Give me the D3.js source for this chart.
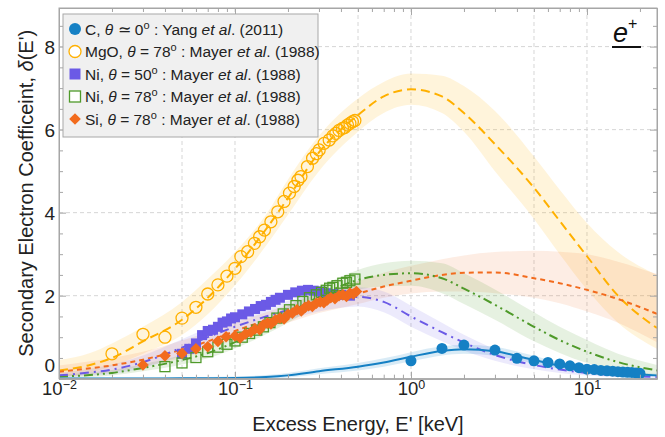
<!DOCTYPE html>
<html>
<head>
<meta charset="utf-8">
<script src="https://cdn.jsdelivr.net/npm/d3@7"></script>
<style>
  body { margin: 0; background: #fff; }
  svg { font-family: "Liberation Sans", Arial, sans-serif; }
</style>
</head>
<body>
<svg id="chart" width="665" height="437"></svg>
<script>
// energy grid of the fitted curves (keV)
const fitE = [0.01, 0.015, 0.02, 0.03, 0.05, 0.07, 0.1, 0.15, 0.2, 0.3, 0.5, 0.7, 1, 1.5, 2, 3, 5, 7, 10, 15, 25];

// fitted curves + shaded bands
const mgoFit = [0.2, 0.33, 0.5, 0.9, 1.42, 1.95, 2.65, 3.6, 4.35, 5.45, 6.35, 6.8, 6.97, 6.8, 6.4, 5.65, 4.6, 3.8, 2.95, 2.0, 1.22];
const mgoUp  = [0.45, 0.62, 0.85, 1.25, 1.85, 2.4, 3.05, 3.95, 4.8, 5.85, 6.75, 7.15, 7.35, 7.3, 7.05, 6.45, 5.35, 4.55, 3.75, 3.05, 2.5];
const mgoLo  = [0.05, 0.15, 0.3, 0.6, 1.05, 1.55, 2.25, 3.2, 3.95, 5.0, 5.95, 6.4, 6.6, 6.4, 5.95, 5.0, 3.85, 3.0, 2.15, 1.35, 0.72];

const siFit = [0.17, 0.25, 0.32, 0.46, 0.7, 0.9, 1.15, 1.4, 1.55, 1.8, 2.05, 2.22, 2.36, 2.5, 2.55, 2.56, 2.42, 2.3, 2.14, 1.92, 1.56];
const siUp  = [0.32, 0.42, 0.5, 0.65, 0.92, 1.12, 1.35, 1.6, 1.78, 2.05, 2.35, 2.55, 2.72, 2.88, 2.97, 3.05, 3.08, 3.06, 3.0, 2.82, 2.52];
const siLo  = [0.05, 0.1, 0.16, 0.3, 0.5, 0.7, 0.95, 1.2, 1.35, 1.58, 1.8, 1.95, 2.05, 2.1, 2.1, 2.06, 1.95, 1.82, 1.62, 1.35, 0.88];

const ni50Fit = [0.08, 0.15, 0.22, 0.4, 0.75, 1.0, 1.25, 1.5, 1.65, 1.85, 1.97, 1.85, 1.5, 1.12, 0.87, 0.57, 0.33, 0.22, 0.14, 0.08, 0.04];
const ni50Up  = [0.14, 0.24, 0.34, 0.56, 0.95, 1.22, 1.46, 1.72, 1.88, 2.08, 2.2, 2.1, 1.76, 1.35, 1.06, 0.72, 0.43, 0.3, 0.2, 0.12, 0.07];
const ni50Lo  = [0.03, 0.08, 0.12, 0.26, 0.56, 0.8, 1.04, 1.28, 1.42, 1.62, 1.74, 1.6, 1.25, 0.9, 0.68, 0.43, 0.23, 0.14, 0.08, 0.04, 0.02];

const ni78Fit = [0.05, 0.09, 0.14, 0.26, 0.45, 0.62, 0.88, 1.25, 1.55, 1.98, 2.38, 2.5, 2.54, 2.42, 2.17, 1.78, 1.25, 0.93, 0.65, 0.4, 0.2];
const ni78Up  = [0.09, 0.15, 0.21, 0.35, 0.57, 0.76, 1.03, 1.43, 1.75, 2.2, 2.62, 2.78, 2.84, 2.78, 2.54, 2.15, 1.6, 1.25, 0.93, 0.6, 0.33];
const ni78Lo  = [0.02, 0.04, 0.08, 0.18, 0.34, 0.49, 0.73, 1.07, 1.35, 1.76, 2.14, 2.22, 2.24, 2.06, 1.8, 1.42, 0.9, 0.62, 0.38, 0.22, 0.08];

const cFit = [0.003, 0.004, 0.005, 0.006, 0.008, 0.01, 0.015, 0.04, 0.08, 0.18, 0.29, 0.39, 0.53, 0.67, 0.71, 0.66, 0.45, 0.31, 0.2, 0.13, 0.08];
const cUp  = [0.02, 0.02, 0.025, 0.03, 0.035, 0.04, 0.05, 0.09, 0.14, 0.25, 0.38, 0.49, 0.64, 0.78, 0.82, 0.77, 0.55, 0.39, 0.27, 0.18, 0.12];
const cLo  = [0, 0, 0, 0, 0, 0, 0, 0, 0.03, 0.11, 0.2, 0.29, 0.42, 0.56, 0.6, 0.55, 0.36, 0.24, 0.14, 0.08, 0.04];

// measured points
const cE = [1.0, 1.5, 2.0, 3.0, 4.0, 5.0, 6.0, 7.0, 8.0, 9.0, 10, 11, 12, 13, 14, 15, 16, 17, 18, 19, 20];
const cD = [0.43, 0.73, 0.81, 0.69, 0.49, 0.43, 0.39, 0.355, 0.31, 0.265, 0.23, 0.22, 0.2, 0.19, 0.18, 0.17, 0.16, 0.155, 0.15, 0.14, 0.13];

const mgoE = [0.02, 0.03, 0.04, 0.05, 0.06, 0.07, 0.08, 0.09, 0.1, 0.108, 0.118, 0.129, 0.138, 0.147, 0.16, 0.175, 0.19, 0.204, 0.217, 0.228, 0.237, 0.258, 0.276, 0.29, 0.301, 0.321, 0.343, 0.36, 0.374, 0.39, 0.408, 0.42, 0.436, 0.45, 0.465, 0.48];
const mgoD = [0.6, 1.07, 1.0, 1.46, 1.72, 2.04, 2.26, 2.47, 2.66, 2.94, 3.06, 3.26, 3.42, 3.58, 3.78, 4.02, 4.27, 4.47, 4.63, 4.78, 4.87, 5.11, 5.31, 5.42, 5.51, 5.67, 5.75, 5.85, 5.91, 5.98, 6.03, 6.05, 6.11, 6.15, 6.19, 6.22];

const ni50E = [0.05, 0.055, 0.06, 0.065, 0.07, 0.075, 0.08, 0.085, 0.09, 0.095, 0.1, 0.11, 0.12, 0.13, 0.14, 0.15, 0.16, 0.17, 0.18, 0.2, 0.22, 0.24, 0.26, 0.28, 0.3, 0.33, 0.36, 0.4, 0.45];
const ni50D = [0.6, 0.72, 0.85, 1.05, 1.15, 1.18, 1.25, 1.35, 1.38, 1.45, 1.48, 1.55, 1.62, 1.68, 1.75, 1.78, 1.85, 1.9, 1.95, 2.02, 2.08, 2.12, 2.14, 2.12, 2.1, 2.06, 2.04, 2.02, 2.0];

const ni78E = [0.04, 0.05, 0.06, 0.07, 0.08, 0.09, 0.1, 0.11, 0.121, 0.133, 0.145, 0.158, 0.173, 0.188, 0.204, 0.222, 0.243, 0.265, 0.29, 0.31, 0.33, 0.345, 0.36, 0.38, 0.41, 0.43, 0.45, 0.48];
const ni78D = [0.29, 0.38, 0.51, 0.65, 0.76, 0.83, 0.91, 1.0, 1.09, 1.17, 1.25, 1.35, 1.46, 1.56, 1.66, 1.76, 1.86, 1.95, 2.02, 2.08, 2.13, 2.18, 2.2, 2.24, 2.3, 2.32, 2.36, 2.4];

const siE = [0.03, 0.04, 0.05, 0.06, 0.07, 0.08, 0.089, 0.1, 0.107, 0.115, 0.123, 0.13, 0.138, 0.145, 0.153, 0.16, 0.17, 0.18, 0.19, 0.2, 0.212, 0.225, 0.238, 0.25, 0.262, 0.275, 0.29, 0.305, 0.32, 0.335, 0.35, 0.37, 0.39, 0.41, 0.43, 0.45, 0.47, 0.49];
const siD = [0.33, 0.55, 0.61, 0.72, 0.77, 0.9, 1.01, 1.03, 0.98, 1.08, 1.12, 1.2, 1.18, 1.3, 1.34, 1.32, 1.42, 1.46, 1.44, 1.55, 1.58, 1.66, 1.63, 1.72, 1.76, 1.74, 1.82, 1.85, 1.83, 1.9, 1.95, 1.93, 2.0, 2.02, 1.98, 2.06, 2.04, 2.1];

// ticks
const xMajor = [0.01, 0.1, 1, 10];
const xExp = ["-2", "-1", "0", "1"];
const xMinor = [0.02, 0.03, 0.04, 0.05, 0.06, 0.07, 0.08, 0.09, 0.2, 0.3, 0.4, 0.5, 0.6, 0.7, 0.8, 0.9, 2, 3, 4, 5, 6, 7, 8, 9, 20];
const xGrid = [0.05, 0.1, 0.5, 1, 5, 10];
const yMajor = [0, 2, 4, 6, 8];
const yMinor = [0.5, 1, 1.5, 2.5, 3, 3.5, 4.5, 5, 5.5, 6.5, 7, 7.5, 8.5];

const colC = "#1580c4", colMgO = "#ffb000", colNi50 = "#6b5ae6", colNi78 = "#4f9a2a", colSi = "#f26b1d";

const L = 59, R = 657, T = 8, B = 378.7;
const x = d3.scaleLog().domain([0.01, 25]).range([L, R]);
const y = d3.scaleLinear().domain([0, 8.93]).range([B, T]);

const svg = d3.select("#chart");
svg.append("defs").append("clipPath").attr("id", "plot")
  .append("rect").attr("x", L).attr("y", T).attr("width", R - L).attr("height", B - T);

// grid
const grid = svg.append("g").attr("stroke", "#d6d6d6").attr("stroke-dasharray", "4,3").attr("stroke-width", 1);
grid.selectAll(".gx").data(xGrid).join("line")
  .attr("x1", d => x(d)).attr("x2", d => x(d)).attr("y1", T).attr("y2", B);
grid.selectAll(".gy").data(yMajor.slice(1)).join("line")
  .attr("x1", L).attr("x2", R).attr("y1", d => y(d)).attr("y2", d => y(d));

const plot = svg.append("g").attr("clip-path", "url(#plot)");

const fits = [
  { fit: mgoFit, up: mgoUp, lo: mgoLo, color: colMgO, op: 0.14, dash: "9,5" },
  { fit: siFit, up: siUp, lo: siLo, color: colSi, op: 0.12, dash: "5,4" },
  { fit: ni78Fit, up: ni78Up, lo: ni78Lo, color: colNi78, op: 0.14, dash: "9,4,2,4,2,4" },
  { fit: ni50Fit, up: ni50Up, lo: ni50Lo, color: colNi50, op: 0.13, dash: "9,5,2,5" },
  { fit: cFit, up: cUp, lo: cLo, color: colC, op: 0.16, dash: null }
];

const area = (up, lo) => d3.area()
  .x((d, i) => x(fitE[i]))
  .y0((d, i) => y(lo[i]))
  .y1((d, i) => y(up[i]))
  .curve(d3.curveMonotoneX)(fitE);

fits.forEach(s => {
  plot.append("path").attr("d", area(s.up, s.lo))
    .attr("fill", s.color).attr("fill-opacity", s.op);
});

const line = vals => d3.line()
  .x((d, i) => x(fitE[i]))
  .y((d, i) => y(vals[i]))
  .curve(d3.curveMonotoneX)(fitE);

fits.forEach(s => {
  plot.append("path").attr("d", line(s.fit))
    .attr("fill", "none").attr("stroke", s.color).attr("stroke-width", 2)
    .attr("stroke-dasharray", s.dash);
});

// markers
const pts = (E, D) => E.map((e, i) => [e, D[i]]);
const diamond = d3.symbol().type(d3.symbolSquare).size(68)();

plot.append("g").selectAll("circle").data(pts(cE, cD)).join("circle")
  .attr("cx", d => x(d[0])).attr("cy", d => y(d[1])).attr("r", 5.5).attr("fill", colC);

plot.append("g").selectAll("circle").data(pts(mgoE, mgoD)).join("circle")
  .attr("cx", d => x(d[0])).attr("cy", d => y(d[1])).attr("r", 6)
  .attr("fill", "none").attr("stroke", colMgO).attr("stroke-width", 1.3);

plot.append("g").selectAll("rect").data(pts(ni50E, ni50D)).join("rect")
  .attr("x", d => x(d[0]) - 5).attr("y", d => y(d[1]) - 5).attr("width", 10).attr("height", 10)
  .attr("fill", colNi50);

plot.append("g").selectAll("rect").data(pts(ni78E, ni78D)).join("rect")
  .attr("x", d => x(d[0]) - 5).attr("y", d => y(d[1]) - 5).attr("width", 10).attr("height", 10)
  .attr("fill", "#fff").attr("fill-opacity", 0).attr("stroke", colNi78).attr("stroke-width", 1.3);

plot.append("g").selectAll("path").data(pts(siE, siD)).join("path")
  .attr("d", diamond)
  .attr("transform", d => `translate(${x(d[0])},${y(d[1])}) rotate(45)`)
  .attr("fill", colSi);

// frame + ticks
const axisStyle = g => {
  g.select(".domain").attr("stroke", "#a6a6a6");
  g.selectAll(".tick line").attr("stroke", "#a6a6a6");
};
const xB = svg.append("g").attr("transform", `translate(0,${B})`)
  .call(d3.axisBottom(x).tickValues(xMajor).tickSize(-7).tickFormat(() => "").tickSizeOuter(0)).call(axisStyle);
svg.append("g").attr("transform", `translate(0,${B})`)
  .call(d3.axisBottom(x).tickValues(xMinor).tickSize(-4).tickFormat(() => "").tickSizeOuter(0)).call(axisStyle);
svg.append("g").attr("transform", `translate(0,${T})`)
  .call(d3.axisTop(x).tickValues(xMajor).tickSize(-7).tickFormat(() => "").tickSizeOuter(0)).call(axisStyle);
svg.append("g").attr("transform", `translate(0,${T})`)
  .call(d3.axisTop(x).tickValues(xMinor).tickSize(-4).tickFormat(() => "").tickSizeOuter(0)).call(axisStyle);

const yL = svg.append("g").attr("transform", `translate(${L},0)`)
  .call(d3.axisLeft(y).tickValues(yMajor).tickSize(-7).tickPadding(4).tickSizeOuter(0)).call(axisStyle);
svg.append("g").attr("transform", `translate(${L},0)`)
  .call(d3.axisLeft(y).tickValues(yMinor).tickSize(-4).tickFormat(() => "").tickSizeOuter(0)).call(axisStyle);
svg.append("g").attr("transform", `translate(${R},0)`)
  .call(d3.axisRight(y).tickValues(yMajor).tickSize(-7).tickFormat(() => "").tickSizeOuter(0)).call(axisStyle);
svg.append("g").attr("transform", `translate(${R},0)`)
  .call(d3.axisRight(y).tickValues(yMinor).tickSize(-4).tickFormat(() => "").tickSizeOuter(0)).call(axisStyle);

svg.append("rect").attr("x", L).attr("y", T).attr("width", R - L).attr("height", B - T)
  .attr("fill", "none").attr("stroke", "#a6a6a6");

// the "0" sits just above the 10^-2 label, lifted a little so the two don't collide
yL.selectAll(".tick text").attr("font-size", 19).attr("fill", "#222")
  .attr("font-family", "Liberation Sans, Arial, sans-serif")
  .attr("dy", d => d === 0 ? "-0.38em" : "0.35em");

// x tick labels 10^n
xB.selectAll(".tick").each(function (d, i) {
  const t = d3.select(this).append("text").attr("y", 16.5).attr("fill", "#222")
    .attr("font-size", 18.5).attr("text-anchor", "middle");
  t.append("tspan").text("10");
  t.append("tspan").attr("font-size", 12.5).attr("dy", -6.5).text(xExp[i].replace("-", "\u2212"));
});

// axis titles
svg.append("text").attr("x", (L + R) / 2).attr("y", 431).attr("text-anchor", "middle")
  .attr("font-size", 20).attr("fill", "#222").text("Excess Energy, E' [keV]");
const yt = svg.append("text").attr("transform", `translate(33,${(T + B) / 2}) rotate(-90)`)
  .attr("text-anchor", "middle").attr("font-size", 20).attr("fill", "#222");
yt.append("tspan").text("Secondary Electron Coefficeint, ");
yt.append("tspan").attr("font-style", "italic").text("\u03b4");
yt.append("tspan").text("(E')");

// e+ label
const ep = svg.append("text").attr("x", 613).attr("y", 42).attr("fill", "#111");
ep.append("tspan").attr("font-size", 27).attr("font-style", "italic").text("e");
ep.append("tspan").attr("font-size", 16).attr("dy", -13).text("+");
svg.append("line").attr("x1", 612).attr("x2", 641).attr("y1", 47).attr("y2", 47)
  .attr("stroke", "#111").attr("stroke-width", 2);

// legend
const lg = svg.append("g");
lg.append("rect").attr("x", 63).attr("y", 14).attr("width", 255).attr("height", 123)
  .attr("fill", "#f0f0f0").attr("stroke", "#a8a8a8");

const legendRows = [
  { who: "C", ang: "\u2243 0", ref: "Yang", yr: "(2011)" },
  { who: "MgO", ang: "= 78", ref: "Mayer", yr: "(1988)" },
  { who: "Ni", ang: "= 50", ref: "Mayer", yr: "(1988)" },
  { who: "Ni", ang: "= 78", ref: "Mayer", yr: "(1988)" },
  { who: "Si", ang: "= 78", ref: "Mayer", yr: "(1988)" }
];
const rowY = [29, 51.5, 74, 96.5, 119];

legendRows.forEach((r, i) => {
  const t = lg.append("text").attr("x", 85).attr("y", rowY[i] + 5.5).attr("font-size", 15.5).attr("fill", "#222");
  t.append("tspan").text(r.who + ", ");
  t.append("tspan").attr("font-style", "italic").text("\u03b8");
  t.append("tspan").text(" " + r.ang);
  t.append("tspan").attr("font-size", 11).attr("dy", -6).text("o");
  t.append("tspan").attr("dy", 6).text(" : " + r.ref + " ");
  t.append("tspan").attr("font-style", "italic").text("et al");
  t.append("tspan").text(". " + r.yr);
});

const mx = 75;
lg.append("circle").attr("cx", mx).attr("cy", rowY[0]).attr("r", 6).attr("fill", colC);
lg.append("circle").attr("cx", mx).attr("cy", rowY[1]).attr("r", 6)
  .attr("fill", "#fff").attr("stroke", colMgO).attr("stroke-width", 1.3);
lg.append("rect").attr("x", mx - 5.5).attr("y", rowY[2] - 5.5).attr("width", 11).attr("height", 11).attr("fill", colNi50);
lg.append("rect").attr("x", mx - 5.5).attr("y", rowY[3] - 5.5).attr("width", 11).attr("height", 11)
  .attr("fill", "#fff").attr("stroke", colNi78).attr("stroke-width", 1.3);
lg.append("path").attr("d", diamond).attr("transform", `translate(${mx},${rowY[4]}) rotate(45)`).attr("fill", colSi);
</script>
</body>
</html>
